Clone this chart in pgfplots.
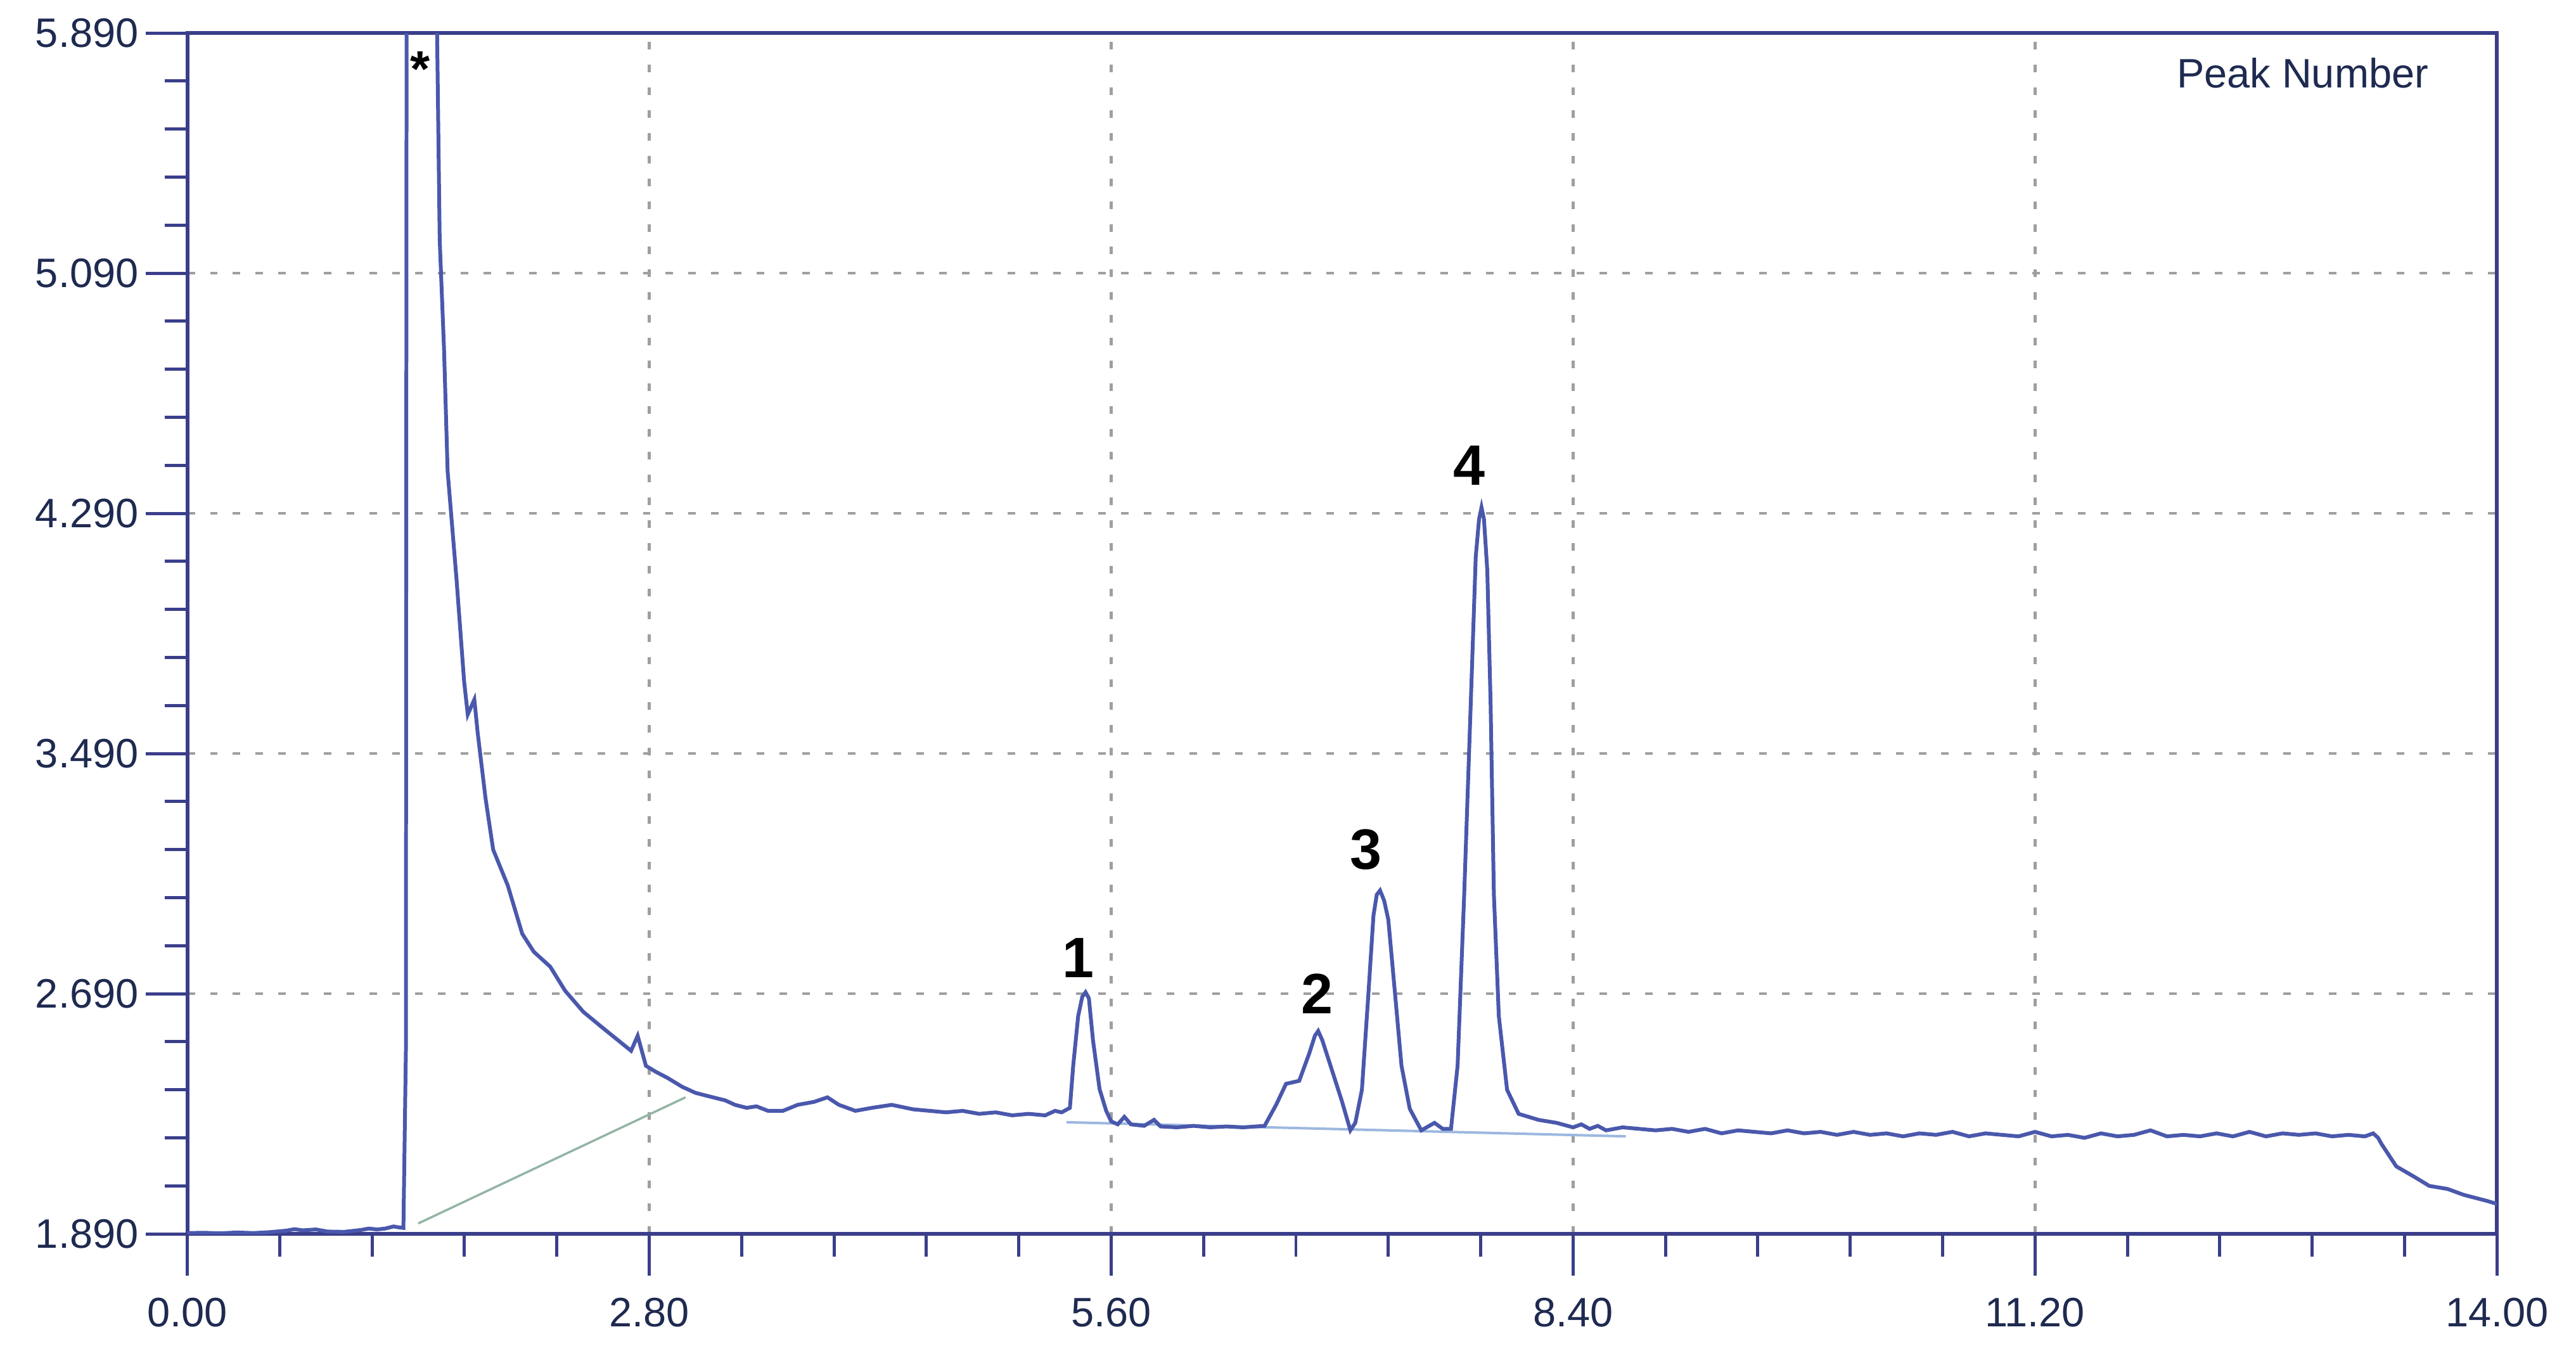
\documentclass[border=0pt]{standalone}
\usepackage{fontspec}
\setmainfont{Liberation Sans}
\usepackage{pgfplots}
\pgfplotsset{compat=1.18}
\definecolor{trace}{HTML}{4A58AC}
\definecolor{axcol}{HTML}{3A3E8A}
\definecolor{lblcol}{HTML}{1E2A50}
\definecolor{base1}{HTML}{93B4A4}
\definecolor{base2}{HTML}{9DB8E0}

\begin{document}
\begin{tikzpicture}
\useasboundingbox (-29.6pt,-17.7pt) rectangle (377.5pt,195pt);
\begin{axis}[scale only axis,width=365pt,height=189.8pt,
 xmin=0,xmax=14,ymin=1.89,ymax=5.89,
 xtick={0,2.8,5.6,8.4,11.2,14},ytick={1.89,2.69,3.49,4.29,5.09,5.89},
 minor x tick num=4,minor y tick num=4,
 xtick pos=bottom,ytick pos=left,tick align=outside,
 major tick length=6.6pt,minor tick length=3.6pt,
 every tick/.style={axcol,line width=0.5pt},
 axis line style={axcol,line width=0.6pt},
 x tick label style={/pgf/number format/.cd,fixed,fixed zerofill,precision=2,assume math mode=true},
 y tick label style={xshift=2.4pt,/pgf/number format/.cd,fixed,fixed zerofill,precision=3,assume math mode=true},
 tick label style={font=\fontsize{6.5}{7}\selectfont,text=lblcol},
 scaled ticks=false,
 grid=major,major grid style={gray!75,line width=0.45pt,dash pattern=on 1.2pt off 2.4pt},
 clip=true]
% integration baselines
\addplot[base1,line width=0.35pt] coordinates {(1.40,1.925)(3.02,2.345)};
\addplot[base2,line width=0.4pt] coordinates {(5.33,2.262)(8.72,2.215)};
% chromatogram trace
\addplot[trace,line width=0.6pt] coordinates {
(0.00,1.893)(0.10,1.894)(0.20,1.892)(0.30,1.895)(0.40,1.893)(0.50,1.896)
(0.60,1.901)(0.65,1.906)(0.70,1.902)(0.78,1.905)(0.85,1.898)(0.95,1.897)
(1.05,1.903)(1.10,1.908)(1.15,1.905)(1.20,1.908)(1.25,1.915)(1.28,1.912)
(1.31,1.910)(1.325,2.5)(1.33,6.5)(1.50,6.5)(1.53,5.2)(1.556,4.84)
(1.578,4.43)(1.632,4.07)(1.678,3.73)(1.70,3.62)(1.74,3.67)(1.76,3.56)
(1.808,3.34)(1.854,3.17)(1.943,3.05)(2.03,2.89)(2.10,2.83)(2.20,2.78)
(2.29,2.70)(2.40,2.63)(2.51,2.58)(2.60,2.54)(2.69,2.50)(2.73,2.55)
(2.78,2.45)(2.84,2.43)(2.91,2.41)(3.00,2.38)(3.08,2.36)(3.15,2.35)
(3.26,2.335)(3.32,2.32)(3.39,2.31)(3.45,2.315)(3.52,2.30)(3.61,2.30)
(3.70,2.32)(3.80,2.33)(3.88,2.345)(3.95,2.32)(4.05,2.30)(4.15,2.31)
(4.27,2.32)(4.40,2.305)(4.50,2.30)(4.60,2.295)(4.70,2.30)(4.80,2.29)
(4.90,2.295)(5.00,2.285)(5.10,2.29)(5.20,2.285)(5.26,2.30)(5.30,2.295)
(5.35,2.31)(5.37,2.45)(5.40,2.615)(5.425,2.68)(5.445,2.695)(5.465,2.675)
(5.49,2.535)(5.53,2.372)(5.57,2.30)(5.60,2.265)(5.64,2.255)(5.68,2.28)
(5.72,2.255)(5.80,2.25)(5.86,2.27)(5.90,2.248)(6.00,2.245)(6.10,2.25)
(6.20,2.245)(6.30,2.248)(6.40,2.245)(6.53,2.25)(6.60,2.32)(6.66,2.39)
(6.74,2.40)(6.80,2.49)(6.835,2.55)(6.855,2.566)(6.88,2.535)(6.93,2.45)
(7.00,2.33)(7.05,2.235)(7.08,2.26)(7.12,2.37)(7.16,2.695)(7.19,2.95)
(7.21,3.02)(7.23,3.034)(7.255,3.00)(7.28,2.937)(7.32,2.695)(7.36,2.45)
(7.41,2.307)(7.48,2.235)(7.56,2.26)(7.61,2.24)(7.66,2.24)(7.70,2.45)
(7.74,3.02)(7.78,3.66)(7.81,4.145)(7.83,4.27)(7.845,4.31)(7.86,4.27)
(7.88,4.10)(7.90,3.66)(7.92,3.02)(7.95,2.615)(8.00,2.37)(8.07,2.29)
(8.19,2.27)(8.30,2.26)(8.40,2.245)(8.45,2.255)(8.50,2.24)(8.55,2.25)
(8.60,2.235)(8.70,2.245)(8.80,2.24)(8.90,2.235)(9.00,2.24)(9.10,2.23)
(9.20,2.24)(9.30,2.225)(9.40,2.235)(9.50,2.23)(9.60,2.225)(9.70,2.235)
(9.80,2.225)(9.90,2.23)(10.00,2.22)(10.10,2.23)(10.20,2.22)(10.30,2.225)
(10.40,2.215)(10.50,2.225)(10.60,2.22)(10.70,2.23)(10.80,2.215)(10.90,2.225)
(11.00,2.22)(11.10,2.215)(11.20,2.23)(11.30,2.215)(11.40,2.22)(11.50,2.21)
(11.60,2.225)(11.70,2.215)(11.80,2.22)(11.90,2.235)(12.00,2.215)(12.10,2.22)
(12.20,2.215)(12.30,2.225)(12.40,2.215)(12.50,2.23)(12.60,2.215)(12.70,2.225)
(12.80,2.22)(12.90,2.225)(13.00,2.215)(13.10,2.22)(13.20,2.215)(13.25,2.225)
(13.28,2.21)(13.30,2.19)(13.39,2.115)(13.50,2.08)(13.59,2.05)(13.70,2.04)
(13.80,2.02)(13.94,2.00)(14.00,1.99)};
% peak labels
\node[font=\fontsize{9}{10}\selectfont\bfseries] at (axis cs:5.40,2.81) {1};
\node[font=\fontsize{9}{10}\selectfont\bfseries] at (axis cs:6.85,2.69) {2};
\node[font=\fontsize{9}{10}\selectfont\bfseries] at (axis cs:7.145,3.17) {3};
\node[font=\fontsize{9}{10}\selectfont\bfseries] at (axis cs:7.77,4.45) {4};
\node[font=\fontsize{8}{9}\selectfont\bfseries] at (axis cs:1.41,5.77) {*};
\node[anchor=east,font=\fontsize{6.5}{7}\selectfont,text=lblcol] at (axis cs:13.72,5.757) {Peak Number};
\end{axis}
\end{tikzpicture}
\end{document}
